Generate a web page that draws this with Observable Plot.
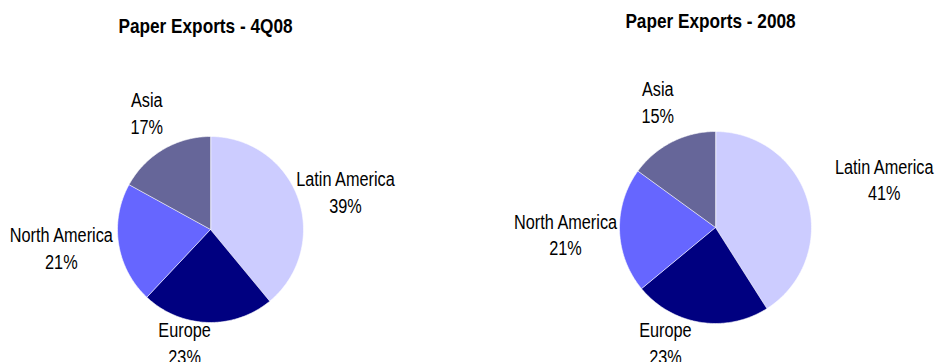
<!DOCTYPE html>
<html><head><meta charset="utf-8">
<script src="https://cdn.jsdelivr.net/npm/d3@7"></script>
<script src="https://cdn.jsdelivr.net/npm/@observablehq/plot@0.6"></script>
<style>body{margin:0;background:#fff}</style>
</head><body><div id="chart"></div>
<script>
// ---- data ----
const regions = ["Latin America", "Europe", "North America", "Asia"];
const share4Q08 = [39, 23, 21, 17];
const share2008 = [41, 23, 21, 15];
const titles = ["Paper Exports - 4Q08", "Paper Exports - 2008"];
const colors = ["#CCCCFF", "#000080", "#6666FF", "#666699"];

// ---- layout ----
const FONT = '"Liberation Sans", Arial, sans-serif';
const LABEL_NARROW = 0.835, TITLE_NARROW = 0.82; // horizontal squeeze to mimic Arial Narrow
const LABEL_SIZE = 19.5, LINE_H = 1.37, TITLE_SIZE = 21;
const pies = [
  {shares: share4Q08, title: titles[0], cx: 210, cy: 229, r: 93, tx: 205, ty: 26,
   nudge: [[-5, 6], [-22, -11], [0, 0], [-5, -7]]},
  {shares: share2008, title: titles[1], cx: 715, cy: 227, r: 96, tx: 710, ty: 21,
   nudge: [[23, -11], [-30, -11], [4, 4], [-4, -10]]}
];

const ctx = document.createElement("canvas").getContext("2d");
ctx.font = `${LABEL_SIZE}px ${FONT}`;

const slicePts = [], labels = [], titleData = [];
pies.forEach((p, pi) => {
  const arcs = d3.pie().sort(null).value(d => d)(p.shares);
  const total = d3.sum(p.shares);
  arcs.forEach((a, i) => {
    const key = pi + "-" + i;
    slicePts.push({key, region: regions[i], x: p.cx, y: p.cy});
    const n = Math.max(8, Math.ceil((a.endAngle - a.startAngle) * 60));
    for (let k = 0; k <= n; k++) {
      const t = a.startAngle + (a.endAngle - a.startAngle) * k / n;
      slicePts.push({key, region: regions[i], x: p.cx + p.r * Math.sin(t), y: p.cy - p.r * Math.cos(t)});
    }
    const mid = (a.startAngle + a.endAngle) / 2;
    const pct = Math.round(a.value / total * 100) + "%";
    const hw = LABEL_NARROW * Math.max(ctx.measureText(regions[i]).width, ctx.measureText(pct).width) / 2;
    const hh = LABEL_SIZE * LINE_H;
    const rr = p.r + 6;
    labels.push({
      text: regions[i] + "\n" + pct,
      x: p.cx + (rr + hw) * Math.sin(mid) + p.nudge[i][0],
      y: p.cy - (rr + hh) * Math.cos(mid) + p.nudge[i][1]
    });
  });
  titleData.push({text: p.title, x: p.tx, y: p.ty});
});

const chart = Plot.plot({
  width: 936, height: 362, margin: 0,
  x: {domain: [0, 936], range: [0, 936], axis: null},
  y: {domain: [0, 362], range: [0, 362], axis: null},
  color: {domain: regions, range: colors},
  style: {fontFamily: FONT, background: "white"},
  marks: [
    Plot.line(slicePts, {x: "x", y: "y", z: "key", fill: "region", stroke: "white", strokeWidth: 0.6, curve: "linear-closed"}),
    Plot.text(labels, {x: "x", y: "y", text: "text", dy: -2, fontSize: LABEL_SIZE, lineHeight: LINE_H, fill: "#000"}),
    Plot.text(titleData, {x: "x", y: "y", text: "text", fontSize: TITLE_SIZE, fontWeight: "bold", fill: "#000"})
  ]
});
// squeeze text horizontally around its anchor (mimic a narrow face)
const textGroups = chart.querySelectorAll("g[aria-label='text']");
textGroups.forEach((g, gi) => {
  const s = gi === 0 ? LABEL_NARROW : TITLE_NARROW;
  g.querySelectorAll("text").forEach(t => {
    const tr = t.getAttribute("transform");
    if (tr) t.setAttribute("transform", tr + ` scale(${s},1)`);
    else {
      const x = +t.getAttribute("x") || 0, y = +t.getAttribute("y") || 0;
      t.removeAttribute("x"); t.removeAttribute("y");
      t.setAttribute("transform", `translate(${x},${y}) scale(${s},1)`);
    }
  });
});
document.getElementById("chart").appendChild(chart);
</script>
</body></html>
